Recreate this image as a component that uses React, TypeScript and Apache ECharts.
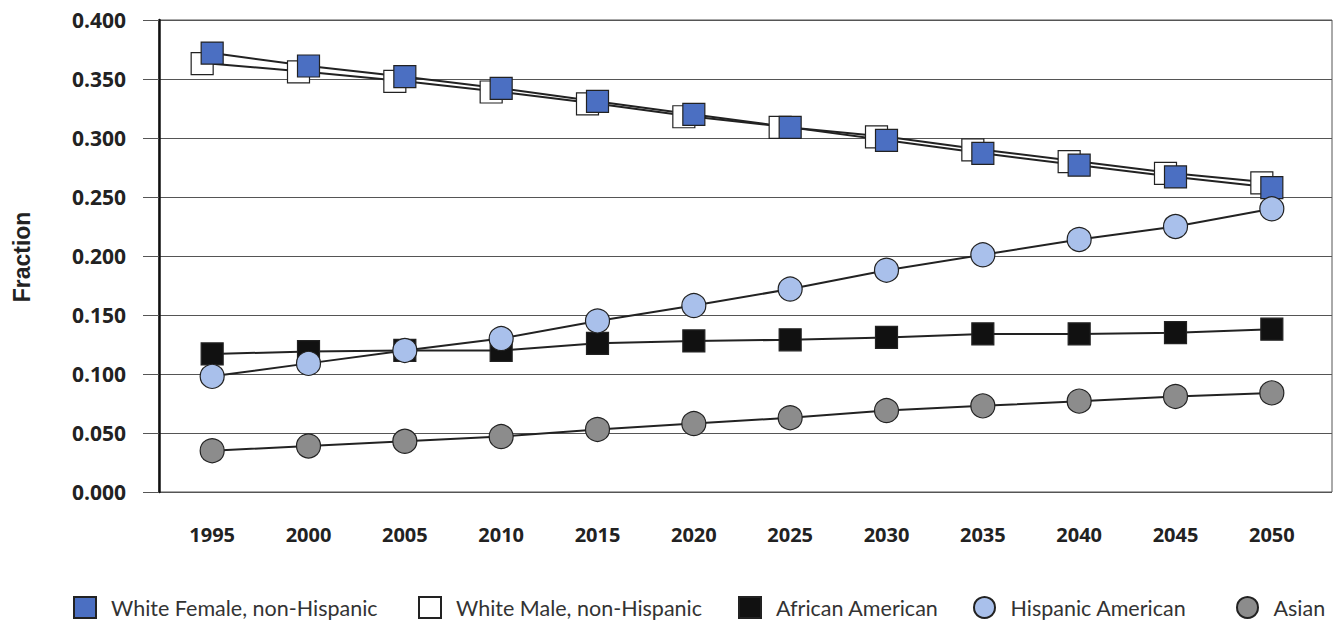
import React, { useEffect, useRef } from "react";
import * as echarts from "echarts";

const years = ["1995", "2000", "2005", "2010", "2015", "2020", "2025", "2030", "2035", "2040", "2045", "2050"];
const whiteFemale = [0.372, 0.361, 0.352, 0.342, 0.331, 0.320, 0.309, 0.298, 0.287, 0.277, 0.267, 0.258];
const whiteMale = [0.363, 0.356, 0.348, 0.339, 0.329, 0.318, 0.309, 0.301, 0.290, 0.280, 0.270, 0.262];
const africanAmerican = [0.117, 0.119, 0.120, 0.120, 0.126, 0.128, 0.129, 0.131, 0.134, 0.134, 0.135, 0.138];
const hispanicAmerican = [0.098, 0.109, 0.120, 0.130, 0.145, 0.158, 0.172, 0.188, 0.201, 0.214, 0.225, 0.240];
const asian = [0.035, 0.039, 0.043, 0.047, 0.053, 0.058, 0.063, 0.069, 0.073, 0.077, 0.081, 0.084];

const legendItems = [
  { name: "White Female, non-Hispanic", icon: "rect", left: 73 },
  { name: "White Male, non-Hispanic", icon: "rect", left: 418 },
  { name: "African American", icon: "rect", left: 738 },
  { name: "Hispanic American", icon: "circle", left: 973 },
  { name: "Asian", icon: "circle", left: 1236 },
];

const LINE = "#222";

export default function App() {
  const ref = useRef<HTMLDivElement>(null);
  useEffect(() => {
    if (!ref.current) return;
    const chart = echarts.init(ref.current, undefined, { renderer: "svg" });
    const mk = (name: string, data: number[], symbol: string, size: number, color: string, offset?: number[]) => ({
      name,
      type: "line",
      xAxisIndex: 1,
      yAxisIndex: 1,
      data,
      symbol,
      symbolSize: size,
      symbolOffset: offset || [0, 0],
      showSymbol: true,
      lineStyle: { color: LINE, width: 2 },
      itemStyle: { color, borderColor: LINE, borderWidth: 1.2 },
      emphasis: { disabled: true },
    });
    chart.setOption({
      animation: false,
      grid: [
        { left: 159, right: 5, top: 20, bottom: 129, show: true, borderColor: "#555", borderWidth: 1 },
        { left: 164, right: 17, top: 20, bottom: 129 },
      ],
      xAxis: [
        { gridIndex: 0, type: "category", data: years, show: false },
        {
          gridIndex: 1,
          type: "category",
          data: years,
          boundaryGap: true,
          axisLine: { show: false },
          axisTick: { show: false },
          axisLabel: { margin: 32, fontFamily: "Open Sans", fontWeight: "bold", fontSize: 20, color: "#222" },
        },
      ],
      yAxis: [
        {
          gridIndex: 0,
          type: "value",
          min: 0,
          max: 0.4,
          interval: 0.05,
          axisLine: { show: true, lineStyle: { color: "#111", width: 2.5 } },
          axisTick: { show: true, length: 16, lineStyle: { color: "#555" } },
          splitLine: { show: true, lineStyle: { color: "#555", width: 1 } },
          axisLabel: {
            margin: 33,
            formatter: (v: number) => v.toFixed(3),
            fontFamily: "Open Sans",
            fontWeight: "bold",
            fontSize: 21,
            color: "#222",
          },
        },
        { gridIndex: 1, type: "value", min: 0, max: 0.4, show: false },
      ],
      legend: legendItems.map((it) => ({
        top: 596,
        left: it.left,
        padding: 0,
        itemWidth: 22,
        itemHeight: 21,
        textStyle: { fontFamily: "Lato", fontSize: 21.5, color: "#333", padding: [0, 0, 0, 10] },
        data: [{ name: it.name, icon: it.icon }],
      })),
      graphic: [
        {
          type: "text",
          x: 22,
          y: 257,
          rotation: Math.PI / 2,
          style: {
            text: "Fraction",
            fontFamily: "Liberation Sans",
            fontWeight: "bold",
            fontSize: 23,
            fill: "#222",
            align: "center",
            verticalAlign: "middle",
          },
        },
      ],
      series: [
        mk("Asian", asian, "circle", 24, "#8c8c8c"),
        mk("African American", africanAmerican, "rect", 22, "#111"),
        mk("White Male, non-Hispanic", whiteMale, "rect", 22, "#ffffff", [-10, 0]),
        mk("White Female, non-Hispanic", whiteFemale, "rect", 22, "#4b6fc2"),
        mk("Hispanic American", hispanicAmerican, "circle", 24, "#a9c0eb"),
      ],
    });
    return () => chart.dispose();
  }, []);
  return <div ref={ref} style={{ width: 1337, height: 621, position: "absolute", left: 0, top: 0 }} />;
}
